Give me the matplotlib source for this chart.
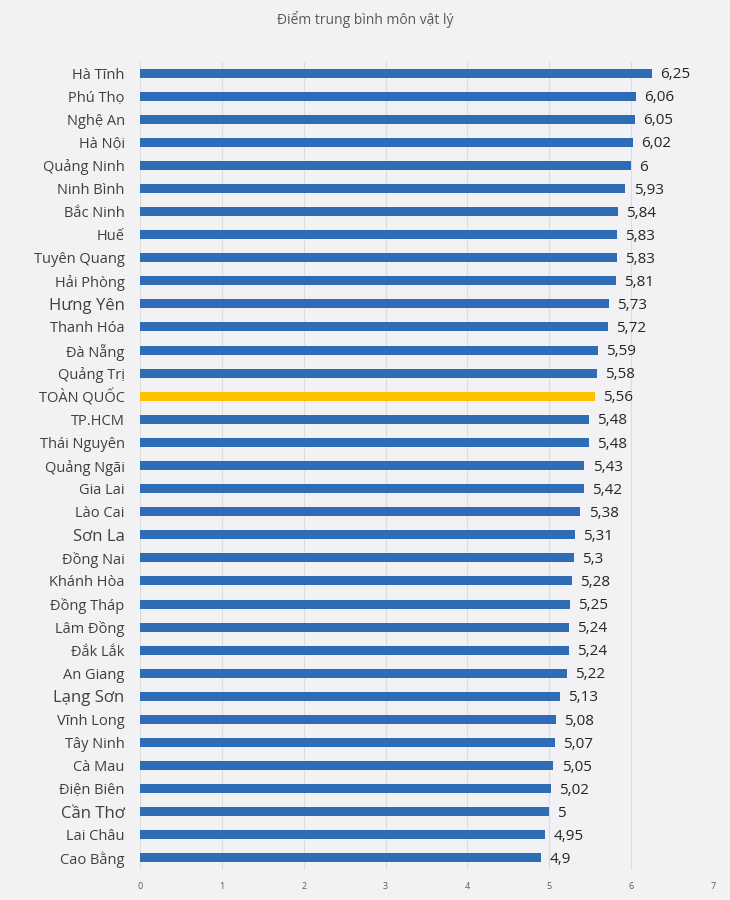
import matplotlib
matplotlib.use("Agg")
import matplotlib.pyplot as plt

title = "Điểm trung bình môn vật lý"
provinces = ["Hà Tĩnh", "Phú Thọ", "Nghệ An", "Hà Nội", "Quảng Ninh", "Ninh Bình",
             "Bắc Ninh", "Huế", "Tuyên Quang", "Hải Phòng", "Hưng Yên", "Thanh Hóa",
             "Đà Nẵng", "Quảng Trị", "TOÀN QUỐC", "TP.HCM", "Thái Nguyên", "Quảng Ngãi",
             "Gia Lai", "Lào Cai", "Sơn La", "Đồng Nai", "Khánh Hòa", "Đồng Tháp",
             "Lâm Đồng", "Đắk Lắk", "An Giang", "Lạng Sơn", "Vĩnh Long", "Tây Ninh",
             "Cà Mau", "Điện Biên", "Cần Thơ", "Lai Châu", "Cao Bằng"]
scores = [6.25, 6.06, 6.05, 6.02, 6.00, 5.93, 5.84, 5.83, 5.83, 5.81, 5.73, 5.72,
          5.59, 5.58, 5.56, 5.48, 5.48, 5.43, 5.42, 5.38, 5.31, 5.30, 5.28, 5.25,
          5.24, 5.24, 5.22, 5.13, 5.08, 5.07, 5.05, 5.02, 5.00, 4.95, 4.90]
x_ticks = [0, 1, 2, 3, 4, 5, 6, 7]
highlight = "TOÀN QUỐC"
large_labels = ["Hưng Yên", "Sơn La", "Lạng Sơn", "Cần Thơ"]

plt.rcParams['font.family'] = ['Open Sans', 'DejaVu Sans']

bg = "#f2f2f4"
fig = plt.figure(figsize=(7.3, 9.0), dpi=100, facecolor=bg)
ax = fig.add_axes([140/730, 1 - 869.5/900, (713 - 140)/730, (869.5 - 61.5)/900])
ax.set_facecolor(bg)

n = len(provinces)
ypos = list(range(n))
colors = ["#ffc000" if p == highlight else "#2e6db6" for p in provinces]
ax.barh(ypos, scores, height=0.39, color=colors, zorder=3)

def fmt(v):
    s = ("%.2f" % v).rstrip("0").rstrip(".")
    return s.replace(".", ",")

for y, v in zip(ypos, scores):
    ax.text(v + 0.1, y + 0.07, fmt(v), va="center", ha="left", fontsize=11,
            color="#262626", zorder=4)

ax.set_ylim(n - 0.5, -0.5)
ax.set_xlim(0, 7)
ax.set_xticks(x_ticks)
ax.set_xticklabels([str(t) for t in x_ticks], fontsize=6.5, color="#595959")
ax.set_yticks(ypos)
ax.set_yticklabels(provinces, color="#404040")
for lbl, p in zip(ax.get_yticklabels(), provinces):
    lbl.set_fontsize(12 if p in large_labels else 10.5)
ax.tick_params(axis="y", length=0, pad=11)
ax.tick_params(axis="x", length=0, pad=9)
ax.grid(axis="x", color="#dcdcdc", linewidth=0.8, zorder=0)
for s in ax.spines.values():
    s.set_visible(False)

fig.text(0.5, 1 - 20/900, title, ha="center", va="center", fontsize=10, color="#595959")

fig.savefig("out.png", dpi=100, facecolor=bg)
